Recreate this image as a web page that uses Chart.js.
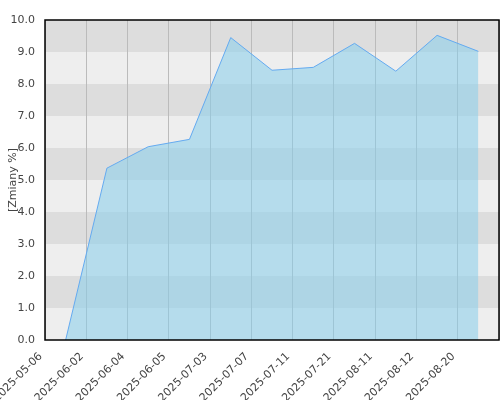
<!DOCTYPE html>
<html>
<head>
<meta charset="utf-8">
<script src="https://cdn.jsdelivr.net/npm/chart.js@4/dist/chart.umd.min.js"></script>
<style>
  html, body { margin: 0; padding: 0; background: #fff; }
  #wrap { width: 500px; height: 400px; }
</style>
</head>
<body>
<div id="wrap"><canvas id="chart"></canvas></div>
<script>
// dates on the x axis
const dates = ["2025-05-06", "2025-06-02", "2025-06-04", "2025-06-05", "2025-07-03", "2025-07-07",
               "2025-07-11", "2025-07-21", "2025-08-11", "2025-08-12", "2025-08-20"];
// change in %
const changes = [0.0, 5.37, 6.04, 6.27, 9.45, 8.43, 8.52, 9.27, 8.40, 9.52, 9.02];

const yMin = 0;
const yMax = 10;

// alternating grey bands behind the plot + black frame
const bandsPlugin = {
    id: "bands",
    beforeDraw(chart) {
        const { ctx, chartArea, scales } = chart;
        const y = scales.y;
        ctx.save();
        for (let v = yMin; v < yMax; v++) {
            const top = y.getPixelForValue(v + 1);
            const bottom = y.getPixelForValue(v);
            ctx.fillStyle = (v % 2 === 0) ? "#eeeeee" : "#dddddd";
            ctx.fillRect(chartArea.left, top, chartArea.right - chartArea.left, bottom - top);
        }
        ctx.restore();
    },
    afterDraw(chart) {
        const { ctx, chartArea } = chart;
        ctx.save();
        ctx.strokeStyle = "#000";
        ctx.lineWidth = 1.5;
        ctx.strokeRect(chartArea.left, chartArea.top, chartArea.right - chartArea.left, chartArea.bottom - chartArea.top);
        ctx.restore();
    }
};

const ctx = document.getElementById("chart").getContext("2d");
new Chart(ctx, {
    type: "line",
    data: {
        labels: dates,
        datasets: [{
            data: changes,
            fill: "origin",
            backgroundColor: "rgba(135, 206, 235, 0.55)",
            borderColor: "rgb(100, 170, 240)",
            borderWidth: 1,
            pointRadius: 0,
            tension: 0
        }]
    },
    options: {
        responsive: true,
        maintainAspectRatio: false,
        animation: false,
        layout: { padding: { top: 20, right: 1, left: 0, bottom: 0 } },
        plugins: {
            legend: { display: false },
            tooltip: { enabled: false }
        },
        scales: {
            x: {
                offset: true,
                grid: { offset: true, color: "#bbbbbb", drawTicks: false },
                border: { display: false },
                ticks: {
                    autoSkip: false,
                    maxRotation: 45,
                    minRotation: 45,
                    labelOffset: -25,
                    padding: 10,
                    color: "#444",
                    font: { family: "DejaVu Sans", size: 11 }
                },
                afterFit(scale) { scale.height = 60; }
            },
            y: {
                min: yMin,
                max: yMax,
                grid: { display: false, drawTicks: false },
                border: { display: false },
                ticks: {
                    stepSize: 1,
                    padding: 10,
                    color: "#444",
                    font: { family: "DejaVu Sans", size: 11 },
                    callback: v => Number(v).toFixed(1)
                },
                title: {
                    display: true,
                    text: "[Zmiany %]",
                    color: "#444",
                    padding: { top: 7, bottom: 0 },
                    font: { family: "DejaVu Sans", size: 11 }
                },
                afterFit(scale) { scale.width = 45; }
            }
        }
    },
    plugins: [bandsPlugin]
});
</script>
</body>
</html>
